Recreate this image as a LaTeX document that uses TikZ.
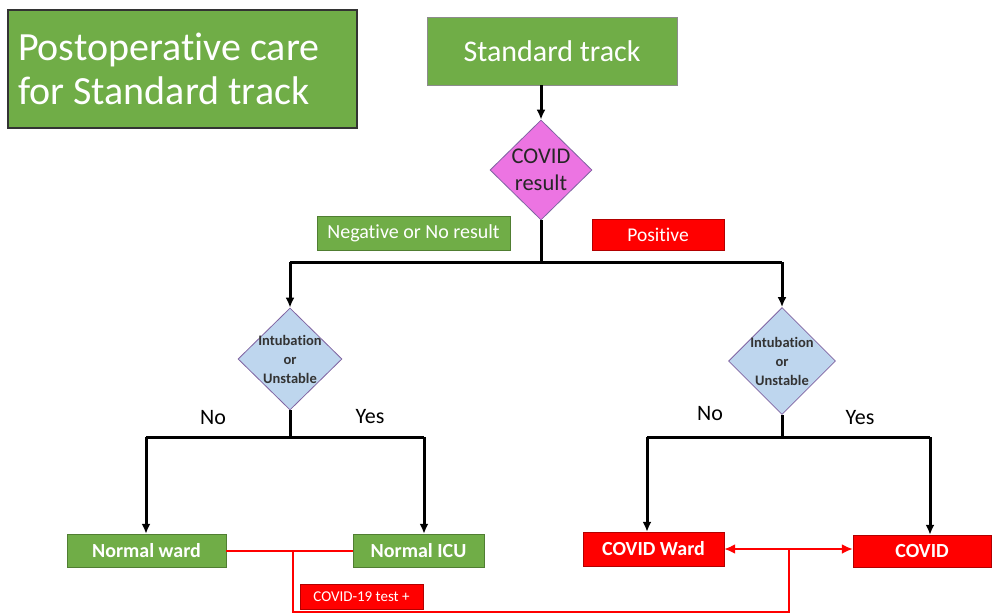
\documentclass[tikz,border=0pt]{standalone}
\usepackage{fontspec}
\setmainfont{Carlito}[Ligatures=NoCommon]
\usetikzlibrary{shapes.geometric,arrows.meta}
\definecolor{boxgreen}{RGB}{112,173,71}
\definecolor{greenrim}{RGB}{80,126,50}
\definecolor{boxred}{RGB}{255,0,0}
\definecolor{pinkdia}{RGB}{236,116,226}
\definecolor{bluedia}{RGB}{190,214,238}
\definecolor{diarim}{RGB}{128,100,162}
\begin{document}
\begin{tikzpicture}[x=1pt,y=-1pt,
  gbox/.style={draw=greenrim,fill=boxgreen,text=white,inner sep=0pt},
  rbox/.style={draw=red!70!black,fill=boxred,text=white,inner sep=0pt},
  decision/.style={diamond,draw=diarim,thick,inner sep=0pt},
  flow/.style={line width=3pt,-{Latex[length=10pt,width=9pt]}},
  bar/.style={line width=3pt},
  redline/.style={line width=2pt,red},
  ans/.style={font=\fontsize{22}{26}\selectfont}]
\useasboundingbox (0,0) rectangle (992,614);
% heading
\node[gbox,draw=black!80,line width=1.5pt,minimum width=349pt,minimum height=118pt,
  inner xsep=10pt,text width=329pt,align=left,font=\fontsize{40}{44}\selectfont] (title) at (182.5,69) {\spaceskip=0pt\relax Postoperative care\\for Standard track};
% first step
\node[gbox,draw=black!45,minimum width=250pt,minimum height=68pt,
  font=\fontsize{30}{34}\selectfont] (std) at (552,51) {Standard track};
\node[decision,fill=pinkdia,minimum width=102pt,minimum height=100pt] (cres) at (541,170) {};
\node[align=center,font=\fontsize{22.5}{27}\selectfont,text=black!85] (cresT) at (541,170) {COVID\\result};
\node[gbox,minimum width=193pt,minimum height=34pt,font=\fontsize{20}{24}\selectfont] (neg) at (413.5,233) {Negative or No result};
\node[rbox,minimum width=132pt,minimum height=31pt,font=\fontsize{19.5}{23}\selectfont] (pos) at (658,234.5) {Positive};
\coordinate (split) at (541,262);
\coordinate (splitL) at (290,262);
\coordinate (splitR) at (782,262);
\draw[flow] (cres |- std.south) -- (cres.north);
\draw[bar] (cres.south) -- (split);
\draw[bar] (splitL) -- (splitR);
% second decision
\node[decision,fill=bluedia,minimum width=104pt,minimum height=102pt] (intL) at (290,359) {};
\node[align=center,font=\bfseries\fontsize{14.5}{19}\selectfont,text=black!80] (intLT) at (290,359) {Intubation\\or\\Unstable};
\node[decision,fill=bluedia,minimum width=107pt,minimum height=107pt] (intR) at (782,361) {};
\node[align=center,font=\bfseries\fontsize{14.5}{19}\selectfont,text=black!80] (intRT) at (782,361) {Intubation\\or\\Unstable};
\draw[flow] (splitL) -- (intL.north);
\draw[flow] (splitR) -- (intR.north);
\coordinate (jL) at (290,437);
\coordinate (jR) at (782,437);
\coordinate (jLa) at (146,437);
\coordinate (jLb) at (424,437);
\coordinate (jRa) at (647,437);
\coordinate (jRb) at (930,437);
\draw[bar] (intL.south) -- (jL);
\draw[bar] (intR.south) -- (jR);
\draw[bar] (jLa) -- (jLb);
\draw[bar] (jRa) -- (jRb);
\node[ans] (noL) at (213,418) {No};
\node[ans] (yesL) at (370,417) {Yes};
\node[ans] (noR) at (710,414) {No};
\node[ans] (yesR) at (860,418) {Yes};
% wards
\node[gbox,minimum width=159pt,minimum height=33pt,font=\bfseries\fontsize{20}{24}\selectfont] (nward) at (146.5,550.5) {Normal ward};
\node[gbox,minimum width=131pt,minimum height=33pt,font=\bfseries\fontsize{20}{24}\selectfont] (nicu) at (418.5,550.5) {Normal ICU};
\node[rbox,minimum width=141pt,minimum height=34pt,font=\bfseries\fontsize{20}{24}\selectfont] (cward) at (653.5,549) {COVID Ward};
\node[rbox,minimum width=138pt,minimum height=32pt,font=\bfseries\fontsize{20}{24}\selectfont] (cicu) at (922,551) {COVID};
\draw[flow] (jLa) -- (jLa |- nward.north);
\draw[flow] (jLb) -- (jLb |- nicu.north);
\draw[flow] (jRa) -- (jRa |- cward.north);
\draw[flow] (jRb) -- (jRb |- cicu.north);
% transfer on positive test
\coordinate (tL) at (293,550);
\coordinate (tR) at (789,549);
\draw[redline] (nward) -- (nicu);
\draw[redline,{Latex[length=11pt,width=10pt]}-{Latex[length=11pt,width=10pt]}] (cward.east) -- (cward.east -| cicu.west);
\draw[redline] (tL) -- (293,612) -| (tR);
\node[rbox,minimum width=123pt,minimum height=25pt,font=\fontsize{15}{18}\selectfont] (ctest) at (361.5,596.5) {COVID-19 test +};
\end{tikzpicture}
\end{document}
